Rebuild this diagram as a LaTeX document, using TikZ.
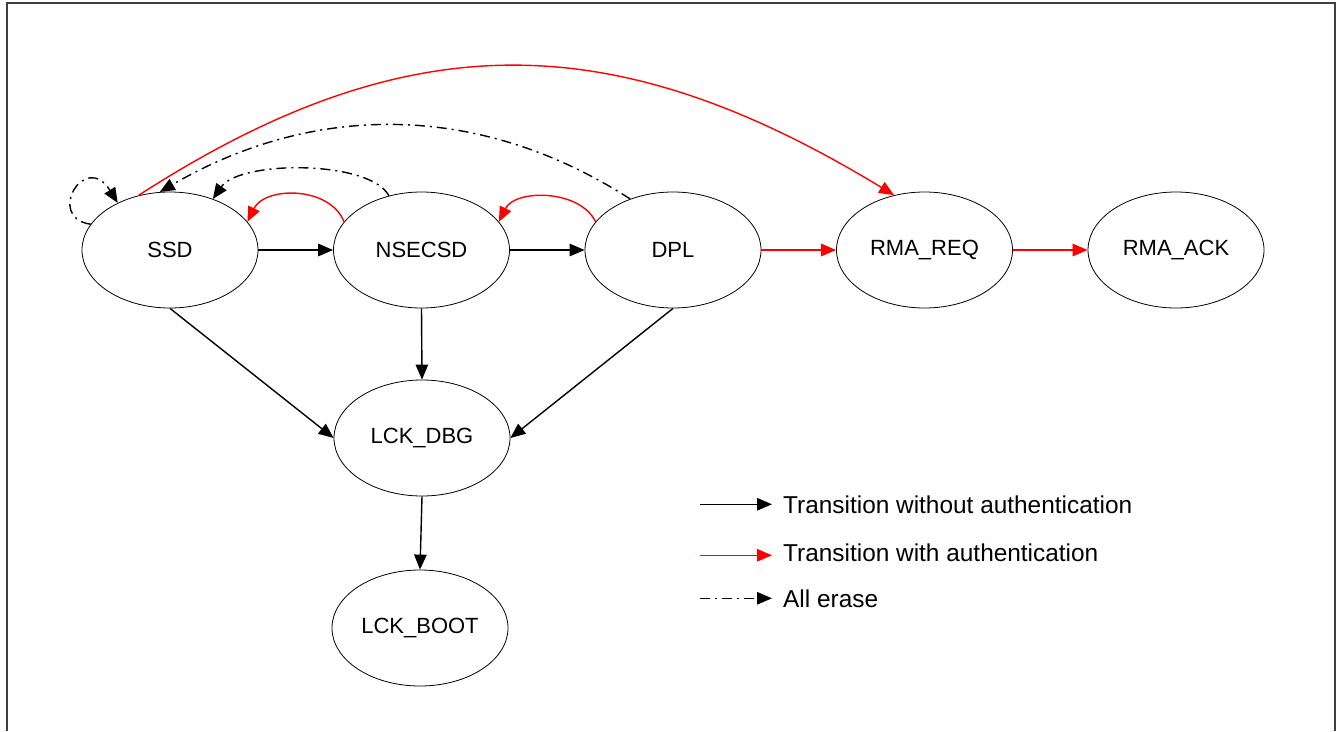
\documentclass[tikz,border=0pt]{standalone}
\usepackage{fontspec}
\setmainfont{Liberation Sans}
\usetikzlibrary{shapes.geometric,arrows.meta}

\begin{document}
\begin{tikzpicture}[x=1pt, y=-1pt,
    mode/.style={ellipse, draw, line width=0.8pt, minimum width=176pt,
      minimum height=116pt, inner sep=0pt, font=\fontsize{22}{26}\selectfont},
    noauth/.style={line width=1.4pt, -{Triangle[length=15pt, width=12.5pt]}},
    auth/.style={noauth, red},
    erase/.style={noauth, dash pattern=on 10pt off 5pt on 2pt off 5pt},
    key/.style={anchor=base west, inner sep=0pt, font=\fontsize{24.4}{28}\selectfont}
  ]
  \useasboundingbox (0,0) rectangle (1341,731);
  \draw[line width=1.5pt, black!75] (7,731) -- (7,3) -- (1335,3) -- (1335,731);
  % states
  \foreach \n/\t [count=\i from 0] in {ssd/SSD, nsecsd/NSECSD, dpl/DPL, rmareq/RMA\_REQ, rmaack/RMA\_ACK}
    \node[mode] (\n) at (170+251.5*\i,250) {\t};
  \node[mode] (lckdbg) at (422,438) {LCK\_DBG};
  \node[mode] (lckboot) at (420,628) {LCK\_BOOT};
  % transitions
  \draw[noauth] (ssd) -- (nsecsd);
  \draw[noauth] (nsecsd) -- (dpl);
  \draw[auth] (dpl) -- (rmareq);
  \draw[auth] (rmareq) -- (rmaack);
  \draw[noauth] (ssd.south) -- (lckdbg.west);
  \draw[noauth] (nsecsd.south) -- (lckdbg.north);
  \draw[noauth] (dpl.south) -- (lckdbg.east);
  \draw[noauth] (lckdbg.south) -- (lckboot.north);
  \draw[auth] (nsecsd.160) .. controls (330,186) and (265,186) .. (ssd.20);
  \draw[auth] (dpl.160) .. controls (580,189) and (515,189) .. (nsecsd.20);
  \draw[auth] (ssd.120) .. controls (410,20) and (616,26) .. (rmareq.119);
  \draw[erase] (nsecsd.121) .. controls (370,160) and (240,160) .. (ssd.50);
  \draw[erase] (dpl.130) .. controls (476,100) and (311,104) .. (ssd.100);
  \draw[erase] (ssd.162) .. controls (45,218) and (85,150) .. (ssd.138);
  % legend
  \node[key] (keynoauth) at (783,513) {Transition without authentication};
  \node[key] (keyauth) at (783,561) {Transition with authentication};
  \node[key] (keyerase) at (783,607) {All erase};
  \draw[noauth] ([xshift=-83pt]keynoauth.west) -- ([xshift=-11pt]keynoauth.west);
  \draw[auth] ([xshift=-83pt,yshift=-3pt]keyauth.west) -- ([xshift=-11pt,yshift=-3pt]keyauth.west);
  \draw[erase] ([xshift=-83pt]keyerase.west) -- ([xshift=-11pt]keyerase.west);
\end{tikzpicture}
\end{document}
